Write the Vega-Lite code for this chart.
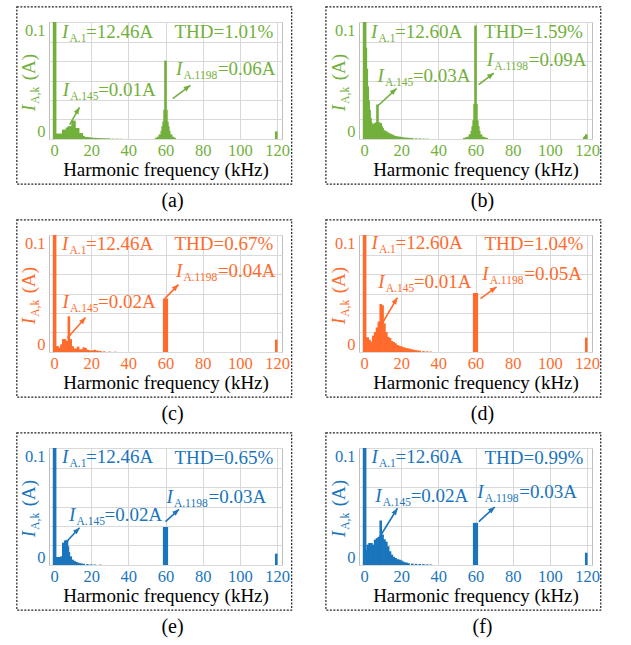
{
"$schema": "https://vega.github.io/schema/vega-lite/v6.json",
"padding": {"left": 15, "top": 5, "right": 5, "bottom": 5},
"background": "white",
"datasets": {
"sa": [{"f":0.05,"a":12.46},{"f":0.6,"a":0.11},{"f":1,"a":0.0046},{"f":2,"a":0.0046},{"f":3,"a":0.0046},{"f":4,"a":0.0046},{"f":5,"a":0.008},{"f":6,"a":0.008},{"f":7,"a":0.0098},{"f":8,"a":0.011},{"f":9,"a":0.011},{"f":10,"a":0.0157},{"f":11,"a":0.0157},{"f":12,"a":0.0094},{"f":13,"a":0.0094},{"f":14,"a":0.005},{"f":15,"a":0.005},{"f":16,"a":0.0025},{"f":17,"a":0.0017},{"f":18,"a":0.0017},{"f":19,"a":0.0015},{"f":20,"a":0.0012},{"f":21,"a":0.001},{"f":22,"a":0.001},{"f":23,"a":0.0009},{"f":24,"a":0.0008},{"f":25,"a":0.0007},{"f":26,"a":0.0006},{"f":27,"a":0.0006},{"f":28,"a":0.0005},{"f":29,"a":0.0005},{"f":30,"a":0.0004},{"f":32,"a":0.0003},{"f":34,"a":0.0003},{"f":36,"a":0.0002},{"f":55,"a":0.001},{"f":56,"a":0.002},{"f":57,"a":0.004},{"f":58,"a":0.007},{"f":58.5,"a":0.011},{"f":59,"a":0.015},{"f":59.5,"a":0.025},{"f":60,"a":0.067},{"f":60.5,"a":0.025},{"f":61,"a":0.015},{"f":61.5,"a":0.011},{"f":62,"a":0.007},{"f":63,"a":0.004},{"f":64,"a":0.002},{"f":65,"a":0.001},{"f":119.6,"a":0.0065}],
"sb": [{"f":0.05,"a":12.6},{"f":0.6,"a":0.11},{"f":1,"a":0.078},{"f":1.5,"a":0.06},{"f":2,"a":0.045},{"f":2.5,"a":0.033},{"f":3,"a":0.025},{"f":3.5,"a":0.018},{"f":4,"a":0.014},{"f":4.5,"a":0.0117},{"f":5,"a":0.012},{"f":5.5,"a":0.013},{"f":6,"a":0.0137},{"f":6.5,"a":0.014},{"f":7,"a":0.014},{"f":7.25,"a":0.0295},{"f":7.5,"a":0.014},{"f":8,"a":0.014},{"f":8.5,"a":0.014},{"f":9,"a":0.0135},{"f":9.5,"a":0.011},{"f":10,"a":0.0094},{"f":11,"a":0.0075},{"f":12,"a":0.0066},{"f":13,"a":0.0055},{"f":14,"a":0.0046},{"f":15,"a":0.004},{"f":16,"a":0.0032},{"f":17,"a":0.0025},{"f":18,"a":0.0023},{"f":19,"a":0.002},{"f":20,"a":0.0018},{"f":21,"a":0.0015},{"f":22,"a":0.0012},{"f":23,"a":0.0011},{"f":24,"a":0.001},{"f":25,"a":0.0009},{"f":26,"a":0.0008},{"f":28,"a":0.0006},{"f":30,"a":0.0005},{"f":32,"a":0.0004},{"f":34,"a":0.0003},{"f":54,"a":0.001},{"f":55,"a":0.0015},{"f":56,"a":0.002},{"f":57,"a":0.004},{"f":58,"a":0.007},{"f":58.5,"a":0.011},{"f":59,"a":0.016},{"f":59.5,"a":0.03},{"f":60,"a":0.097},{"f":60.5,"a":0.03},{"f":61,"a":0.016},{"f":61.5,"a":0.011},{"f":62,"a":0.007},{"f":63,"a":0.004},{"f":64,"a":0.002},{"f":65,"a":0.0015},{"f":66,"a":0.001},{"f":118.5,"a":0.0015},{"f":119,"a":0.0025},{"f":119.6,"a":0.004}],
"sc": [{"f":0.05,"a":12.46},{"f":0.6,"a":0.11},{"f":1,"a":0.005},{"f":2,"a":0.005},{"f":3,"a":0.0037},{"f":4,"a":0.0066},{"f":5,"a":0.011},{"f":6,"a":0.011},{"f":7,"a":0.0094},{"f":8,"a":0.0305},{"f":9,"a":0.011},{"f":10,"a":0.005},{"f":11,"a":0.003},{"f":12,"a":0.003},{"f":13,"a":0.0046},{"f":14,"a":0.0023},{"f":15,"a":0.0023},{"f":16,"a":0.004},{"f":17,"a":0.0035},{"f":18,"a":0.002},{"f":19,"a":0.0015},{"f":20,"a":0.0012},{"f":21,"a":0.0015},{"f":22,"a":0.0018},{"f":23,"a":0.0012},{"f":24,"a":0.001},{"f":25,"a":0.0008},{"f":27,"a":0.0006},{"f":30,"a":0.0004},{"f":33,"a":0.0003},{"f":59.3,"a":0.0456},{"f":60,"a":0.0456},{"f":60.7,"a":0.0456},{"f":119.6,"a":0.0106}],
"sd": [{"f":0.05,"a":12.6},{"f":0.6,"a":0.11},{"f":1,"a":0.0125},{"f":2,"a":0.0125},{"f":3,"a":0.0105},{"f":4,"a":0.0088},{"f":5,"a":0.014},{"f":6,"a":0.017},{"f":7,"a":0.021},{"f":8,"a":0.026},{"f":9,"a":0.041},{"f":10,"a":0.04},{"f":11,"a":0.0245},{"f":12,"a":0.017},{"f":13,"a":0.013},{"f":14,"a":0.012},{"f":15,"a":0.0094},{"f":16,"a":0.0085},{"f":17,"a":0.0074},{"f":18,"a":0.006},{"f":19,"a":0.0054},{"f":20,"a":0.0048},{"f":21,"a":0.0042},{"f":22,"a":0.0037},{"f":23,"a":0.0033},{"f":24,"a":0.003},{"f":25,"a":0.0026},{"f":26,"a":0.0022},{"f":27,"a":0.0018},{"f":28,"a":0.0015},{"f":29,"a":0.0013},{"f":30,"a":0.0011},{"f":32,"a":0.0008},{"f":34,"a":0.0006},{"f":36,"a":0.0004},{"f":59.3,"a":0.0504},{"f":60,"a":0.0504},{"f":60.7,"a":0.0504},{"f":119.6,"a":0.0123}],
"se": [{"f":0.05,"a":12.46},{"f":0.6,"a":0.11},{"f":1,"a":0.0068},{"f":2,"a":0.0068},{"f":3,"a":0.0068},{"f":4,"a":0.0074},{"f":5,"a":0.019},{"f":6,"a":0.021},{"f":7,"a":0.0215},{"f":7.5,"a":0.016},{"f":8,"a":0.011},{"f":9,"a":0.0074},{"f":10,"a":0.0046},{"f":11,"a":0.0035},{"f":12,"a":0.0026},{"f":13,"a":0.002},{"f":14,"a":0.0015},{"f":15,"a":0.0012},{"f":16,"a":0.001},{"f":18,"a":0.0008},{"f":20,"a":0.0006},{"f":22,"a":0.0004},{"f":25,"a":0.0003},{"f":59.3,"a":0.0325},{"f":60,"a":0.0325},{"f":60.7,"a":0.0325},{"f":119.6,"a":0.0097}],
"sf": [{"f":0.05,"a":12.6},{"f":0.6,"a":0.11},{"f":1,"a":0.013},{"f":2,"a":0.0174},{"f":3,"a":0.0188},{"f":4,"a":0.0188},{"f":5,"a":0.0174},{"f":6,"a":0.0217},{"f":7,"a":0.023},{"f":8,"a":0.024},{"f":9,"a":0.038},{"f":10,"a":0.026},{"f":11,"a":0.022},{"f":12,"a":0.02},{"f":13,"a":0.016},{"f":14,"a":0.0117},{"f":15,"a":0.0088},{"f":16,"a":0.007},{"f":17,"a":0.006},{"f":18,"a":0.005},{"f":19,"a":0.0046},{"f":20,"a":0.004},{"f":21,"a":0.003},{"f":22,"a":0.0023},{"f":23,"a":0.002},{"f":24,"a":0.0015},{"f":26,"a":0.0012},{"f":28,"a":0.001},{"f":30,"a":0.0009},{"f":32,"a":0.0008},{"f":34,"a":0.0006},{"f":36,"a":0.0004},{"f":59.3,"a":0.036},{"f":60,"a":0.036},{"f":60.7,"a":0.036},{"f":119.6,"a":0.0105}],
"arrows": [
{"p":"a","k":"145","f":8.45,"a":0.0123,"f2":13.75,"a2":0.0271},{"p":"a","k":"1198","f":63.9,"a":0.0345,"f2":73.4,"a2":0.0459},
{"p":"b","k":"145","f":7.2,"a":0.028,"f2":17.5,"a2":0.0431},{"p":"b","k":"1198","f":61.7,"a":0.0465,"f2":69.9,"a2":0.0564},
{"p":"c","k":"145","f":7.2,"a":0.012,"f2":17,"a2":0.0295},{"p":"c","k":"1198","f":59.6,"a":0.0456,"f2":67,"a2":0.0576},
{"p":"d","k":"145","f":6,"a":0.0143,"f2":18,"a2":0.0465},{"p":"d","k":"1198","f":62.7,"a":0.0456,"f2":71.3,"a2":0.0556},
{"p":"e","k":"145","f":5.5,"a":0.0177,"f2":13.75,"a2":0.0319},{"p":"e","k":"1198","f":60,"a":0.037,"f2":67.3,"a2":0.0476},
{"p":"f","k":"145","f":8.2,"a":0.0233,"f2":18,"a2":0.0485},{"p":"f","k":"1198","f":61.8,"a":0.037,"f2":70.4,"a2":0.0496}],
"notes": [
{"p":"a","k":"1","f":4.3,"a":0.0863,"sub":"A.1","txt":"=12.46A"},{"p":"a","k":"145","f":4.65,"a":0.0365,"sub":"A.145","txt":"=0.01A"},{"p":"a","k":"1198","f":65.6,"a":0.0544,"sub":"A.1198","txt":"=0.06A"},{"p":"a","k":"yt","f":-10,"a":0.0237,"sub":"A,k","txt":"(A)"},{"p":"a","k":"thd","f":118,"a":0.0862,"txt":"THD=1.01%"},
{"p":"b","k":"1","f":3.8,"a":0.0863,"sub":"A.1","txt":"=12.60A"},{"p":"b","k":"145","f":7.2,"a":0.0485,"sub":"A.145","txt":"=0.03A"},{"p":"b","k":"1198","f":66.1,"a":0.0621,"sub":"A.1198","txt":"=0.09A"},{"p":"b","k":"yt","f":-10,"a":0.0237,"sub":"A,k","txt":"(A)"},{"p":"b","k":"thd","f":117.8,"a":0.0862,"txt":"THD=1.59%"},
{"p":"c","k":"1","f":4.3,"a":0.0869,"sub":"A.1","txt":"=12.46A"},{"p":"c","k":"145","f":4.6,"a":0.0376,"sub":"A.145","txt":"=0.02A"},{"p":"c","k":"1198","f":65.6,"a":0.0638,"sub":"A.1198","txt":"=0.04A"},{"p":"c","k":"yt","f":-10,"a":0.0237,"sub":"A,k","txt":"(A)"},{"p":"c","k":"thd","f":118,"a":0.0868,"txt":"THD=0.67%"},
{"p":"d","k":"1","f":4,"a":0.0878,"sub":"A.1","txt":"=12.60A"},{"p":"d","k":"145","f":7.7,"a":0.055,"sub":"A.145","txt":"=0.01A"},{"p":"d","k":"1198","f":63.6,"a":0.0613,"sub":"A.1198","txt":"=0.05A"},{"p":"d","k":"yt","f":-10,"a":0.0237,"sub":"A,k","txt":"(A)"},{"p":"d","k":"thd","f":118,"a":0.0875,"txt":"THD=1.04%"},
{"p":"e","k":"1","f":4.3,"a":0.0869,"sub":"A.1","txt":"=12.46A"},{"p":"e","k":"145","f":8.1,"a":0.0376,"sub":"A.145","txt":"=0.02A"},{"p":"e","k":"1198","f":60.5,"a":0.0533,"sub":"A.1198","txt":"=0.03A"},{"p":"e","k":"yt","f":-10,"a":0.0237,"sub":"A,k","txt":"(A)"},{"p":"e","k":"thd","f":118,"a":0.0862,"txt":"THD=0.65%"},
{"p":"f","k":"1","f":4,"a":0.0869,"sub":"A.1","txt":"=12.60A"},{"p":"f","k":"145","f":6,"a":0.0538,"sub":"A.145","txt":"=0.02A"},{"p":"f","k":"1198","f":61,"a":0.0575,"sub":"A.1198","txt":"=0.03A"},{"p":"f","k":"yt","f":-10,"a":0.0237,"sub":"A,k","txt":"(A)"},{"p":"f","k":"thd","f":118,"a":0.0862,"txt":"THD=0.99%"}]
},
"columns": 2,
"spacing": {"row": 96, "column": 77},
"bounds": "flush",
"concat": [
{"width":233,"height":117,"title":"(a)","resolve":{"axis":{"x":"independent","y":"independent"}},"encoding":{"color":{"value":"#72B03C"}},"layer":[
{"data":{"name":"sa"},"mark":{"type":"bar","size":2.6,"clip":true,"orient":"vertical"},"encoding":{"x":{"field":"f","type":"quantitative","scale":{"domain":[0,120],"nice":false,"zero":false},"axis":{"values":[0,20,40,60,80,100,120],"labelColor":"#72B03C","title":"Harmonic frequency (kHz)"}},"y":{"field":"a","type":"quantitative","stack":null,"scale":{"domain":[0,0.1],"nice":false},"axis":{"values":[0,0.0166667,0.0333333,0.05,0.0666667,0.0833333,0.1],"labelExpr":"datum.value == 0 ? '0' : (datum.value > 0.099 ? '0.1' : '')","labelColor":"#72B03C","title":null}}}},
{"data":{"values":[{}]},"mark":{"type":"rect","filled":false,"strokeDash":[2,1.5],"strokeWidth":1.2},"encoding":{"color":{"value":"#222"},"x":{"datum":-20,"type":"quantitative","axis":null},"x2":{"datum":127.9},"y":{"datum":-0.0385,"type":"quantitative","axis":null},"y2":{"datum":0.113}}},
{"data":{"name":"arrows"},"transform":[{"filter":"datum.p=='a'"}],"mark":{"type":"rule","strokeWidth":1.6},"encoding":{"x":{"field":"f","type":"quantitative","axis":null},"y":{"field":"a","type":"quantitative","axis":null},"x2":{"field":"f2"},"y2":{"field":"a2"}}},
{"data":{"name":"arrows"},"transform":[{"filter":"datum.p=='a'"}],"mark":{"type":"point","shape":"M0,0L-0.8,2L0.8,2Z","filled":true,"size":45,"opacity":1},"encoding":{"x":{"field":"f2","type":"quantitative","axis":null},"y":{"field":"a2","type":"quantitative","axis":null},"angle":{"condition":{"test":"datum.k=='145'","value":31},"value":54}}},
{"data":{"name":"notes"},"transform":[{"filter":"datum.p=='a' && datum.k!='thd'"}],"mark":{"type":"text","font":"Liberation Serif","fontSize":19,"fontStyle":"italic","align":"left","baseline":"alphabetic"},"encoding":{"x":{"field":"f","type":"quantitative","axis":null},"y":{"field":"a","type":"quantitative","axis":null},"text":{"value":"I"},"angle":{"condition":{"test":"datum.k=='yt'","value":270},"value":0}}},
{"data":{"name":"notes"},"transform":[{"filter":"datum.p=='a' && datum.k!='thd'"}],"mark":{"type":"text","font":"Liberation Serif","fontSize":11.5,"align":"left","baseline":"alphabetic","dx":7.5,"dy":4},"encoding":{"x":{"field":"f","type":"quantitative","axis":null},"y":{"field":"a","type":"quantitative","axis":null},"text":{"field":"sub"},"angle":{"condition":{"test":"datum.k=='yt'","value":270},"value":0}}},
{"data":{"name":"notes"},"transform":[{"filter":"datum.p=='a' && datum.k=='yt'"}],"mark":{"type":"text","font":"Liberation Serif","fontSize":19,"align":"left","baseline":"alphabetic","dx":31,"angle":270},"encoding":{"x":{"field":"f","type":"quantitative","axis":null},"y":{"field":"a","type":"quantitative","axis":null},"text":{"field":"txt"}}},
{"data":{"name":"notes"},"transform":[{"filter":"datum.p=='a' && datum.k=='1'"}],"mark":{"type":"text","font":"Liberation Serif","fontSize":19,"align":"left","baseline":"alphabetic","dx":24},"encoding":{"x":{"field":"f","type":"quantitative","axis":null},"y":{"field":"a","type":"quantitative","axis":null},"text":{"field":"txt"}}},
{"data":{"name":"notes"},"transform":[{"filter":"datum.p=='a' && datum.k=='145'"}],"mark":{"type":"text","font":"Liberation Serif","fontSize":19,"align":"left","baseline":"alphabetic","dx":35.5},"encoding":{"x":{"field":"f","type":"quantitative","axis":null},"y":{"field":"a","type":"quantitative","axis":null},"text":{"field":"txt"}}},
{"data":{"name":"notes"},"transform":[{"filter":"datum.p=='a' && datum.k=='1198'"}],"mark":{"type":"text","font":"Liberation Serif","fontSize":19,"align":"left","baseline":"alphabetic","dx":42},"encoding":{"x":{"field":"f","type":"quantitative","axis":null},"y":{"field":"a","type":"quantitative","axis":null},"text":{"field":"txt"}}},
{"data":{"name":"notes"},"transform":[{"filter":"datum.p=='a' && datum.k=='thd'"}],"mark":{"type":"text","font":"Liberation Serif","fontSize":19,"align":"right","baseline":"alphabetic"},"encoding":{"x":{"field":"f","type":"quantitative","axis":null},"y":{"field":"a","type":"quantitative","axis":null},"text":{"field":"txt"}}}
]},
{"width":233,"height":117,"title":"(b)","resolve":{"axis":{"x":"independent","y":"independent"}},"encoding":{"color":{"value":"#72B03C"}},"layer":[
{"data":{"name":"sb"},"mark":{"type":"bar","size":2.6,"clip":true,"orient":"vertical"},"encoding":{"x":{"field":"f","type":"quantitative","scale":{"domain":[0,120],"nice":false,"zero":false},"axis":{"values":[0,20,40,60,80,100,120],"labelColor":"#72B03C","title":"Harmonic frequency (kHz)"}},"y":{"field":"a","type":"quantitative","stack":null,"scale":{"domain":[0,0.1],"nice":false},"axis":{"values":[0,0.0166667,0.0333333,0.05,0.0666667,0.0833333,0.1],"labelExpr":"datum.value == 0 ? '0' : (datum.value > 0.099 ? '0.1' : '')","labelColor":"#72B03C","title":null}}}},
{"data":{"values":[{}]},"mark":{"type":"rect","filled":false,"strokeDash":[2,1.5],"strokeWidth":1.2},"encoding":{"color":{"value":"#222"},"x":{"datum":-20.5,"type":"quantitative","axis":null},"x2":{"datum":127.4},"y":{"datum":-0.0385,"type":"quantitative","axis":null},"y2":{"datum":0.113}}},
{"data":{"name":"arrows"},"transform":[{"filter":"datum.p=='b'"}],"mark":{"type":"rule","strokeWidth":1.6},"encoding":{"x":{"field":"f","type":"quantitative","axis":null},"y":{"field":"a","type":"quantitative","axis":null},"x2":{"field":"f2"},"y2":{"field":"a2"}}},
{"data":{"name":"arrows"},"transform":[{"filter":"datum.p=='b'"}],"mark":{"type":"point","shape":"M0,0L-0.8,2L0.8,2Z","filled":true,"size":45,"opacity":1},"encoding":{"x":{"field":"f2","type":"quantitative","axis":null},"y":{"field":"a2","type":"quantitative","axis":null},"angle":{"condition":{"test":"datum.k=='145'","value":48},"value":54}}},
{"data":{"name":"notes"},"transform":[{"filter":"datum.p=='b' && datum.k!='thd'"}],"mark":{"type":"text","font":"Liberation Serif","fontSize":19,"fontStyle":"italic","align":"left","baseline":"alphabetic"},"encoding":{"x":{"field":"f","type":"quantitative","axis":null},"y":{"field":"a","type":"quantitative","axis":null},"text":{"value":"I"},"angle":{"condition":{"test":"datum.k=='yt'","value":270},"value":0}}},
{"data":{"name":"notes"},"transform":[{"filter":"datum.p=='b' && datum.k!='thd'"}],"mark":{"type":"text","font":"Liberation Serif","fontSize":11.5,"align":"left","baseline":"alphabetic","dx":7.5,"dy":4},"encoding":{"x":{"field":"f","type":"quantitative","axis":null},"y":{"field":"a","type":"quantitative","axis":null},"text":{"field":"sub"},"angle":{"condition":{"test":"datum.k=='yt'","value":270},"value":0}}},
{"data":{"name":"notes"},"transform":[{"filter":"datum.p=='b' && datum.k=='yt'"}],"mark":{"type":"text","font":"Liberation Serif","fontSize":19,"align":"left","baseline":"alphabetic","dx":31,"angle":270},"encoding":{"x":{"field":"f","type":"quantitative","axis":null},"y":{"field":"a","type":"quantitative","axis":null},"text":{"field":"txt"}}},
{"data":{"name":"notes"},"transform":[{"filter":"datum.p=='b' && datum.k=='1'"}],"mark":{"type":"text","font":"Liberation Serif","fontSize":19,"align":"left","baseline":"alphabetic","dx":24},"encoding":{"x":{"field":"f","type":"quantitative","axis":null},"y":{"field":"a","type":"quantitative","axis":null},"text":{"field":"txt"}}},
{"data":{"name":"notes"},"transform":[{"filter":"datum.p=='b' && datum.k=='145'"}],"mark":{"type":"text","font":"Liberation Serif","fontSize":19,"align":"left","baseline":"alphabetic","dx":35.5},"encoding":{"x":{"field":"f","type":"quantitative","axis":null},"y":{"field":"a","type":"quantitative","axis":null},"text":{"field":"txt"}}},
{"data":{"name":"notes"},"transform":[{"filter":"datum.p=='b' && datum.k=='1198'"}],"mark":{"type":"text","font":"Liberation Serif","fontSize":19,"align":"left","baseline":"alphabetic","dx":42},"encoding":{"x":{"field":"f","type":"quantitative","axis":null},"y":{"field":"a","type":"quantitative","axis":null},"text":{"field":"txt"}}},
{"data":{"name":"notes"},"transform":[{"filter":"datum.p=='b' && datum.k=='thd'"}],"mark":{"type":"text","font":"Liberation Serif","fontSize":19,"align":"right","baseline":"alphabetic"},"encoding":{"x":{"field":"f","type":"quantitative","axis":null},"y":{"field":"a","type":"quantitative","axis":null},"text":{"field":"txt"}}}
]},
{"width":233,"height":117,"title":"(c)","resolve":{"axis":{"x":"independent","y":"independent"}},"encoding":{"color":{"value":"#FF6B2D"}},"layer":[
{"data":{"name":"sc"},"mark":{"type":"bar","size":2.6,"clip":true,"orient":"vertical"},"encoding":{"x":{"field":"f","type":"quantitative","scale":{"domain":[0,120],"nice":false,"zero":false},"axis":{"values":[0,20,40,60,80,100,120],"labelColor":"#FF6B2D","title":"Harmonic frequency (kHz)"}},"y":{"field":"a","type":"quantitative","stack":null,"scale":{"domain":[0,0.1],"nice":false},"axis":{"values":[0,0.0166667,0.0333333,0.05,0.0666667,0.0833333,0.1],"labelExpr":"datum.value == 0 ? '0' : (datum.value > 0.099 ? '0.1' : '')","labelColor":"#FF6B2D","title":null}}}},
{"data":{"values":[{}]},"mark":{"type":"rect","filled":false,"strokeDash":[2,1.5],"strokeWidth":1.2},"encoding":{"color":{"value":"#222"},"x":{"datum":-20,"type":"quantitative","axis":null},"x2":{"datum":127.9},"y":{"datum":-0.0385,"type":"quantitative","axis":null},"y2":{"datum":0.113}}},
{"data":{"name":"arrows"},"transform":[{"filter":"datum.p=='c'"}],"mark":{"type":"rule","strokeWidth":1.6},"encoding":{"x":{"field":"f","type":"quantitative","axis":null},"y":{"field":"a","type":"quantitative","axis":null},"x2":{"field":"f2"},"y2":{"field":"a2"}}},
{"data":{"name":"arrows"},"transform":[{"filter":"datum.p=='c'"}],"mark":{"type":"point","shape":"M0,0L-0.8,2L0.8,2Z","filled":true,"size":45,"opacity":1},"encoding":{"x":{"field":"f2","type":"quantitative","axis":null},"y":{"field":"a2","type":"quantitative","axis":null},"angle":{"condition":{"test":"datum.k=='145'","value":42},"value":46}}},
{"data":{"name":"notes"},"transform":[{"filter":"datum.p=='c' && datum.k!='thd'"}],"mark":{"type":"text","font":"Liberation Serif","fontSize":19,"fontStyle":"italic","align":"left","baseline":"alphabetic"},"encoding":{"x":{"field":"f","type":"quantitative","axis":null},"y":{"field":"a","type":"quantitative","axis":null},"text":{"value":"I"},"angle":{"condition":{"test":"datum.k=='yt'","value":270},"value":0}}},
{"data":{"name":"notes"},"transform":[{"filter":"datum.p=='c' && datum.k!='thd'"}],"mark":{"type":"text","font":"Liberation Serif","fontSize":11.5,"align":"left","baseline":"alphabetic","dx":7.5,"dy":4},"encoding":{"x":{"field":"f","type":"quantitative","axis":null},"y":{"field":"a","type":"quantitative","axis":null},"text":{"field":"sub"},"angle":{"condition":{"test":"datum.k=='yt'","value":270},"value":0}}},
{"data":{"name":"notes"},"transform":[{"filter":"datum.p=='c' && datum.k=='yt'"}],"mark":{"type":"text","font":"Liberation Serif","fontSize":19,"align":"left","baseline":"alphabetic","dx":31,"angle":270},"encoding":{"x":{"field":"f","type":"quantitative","axis":null},"y":{"field":"a","type":"quantitative","axis":null},"text":{"field":"txt"}}},
{"data":{"name":"notes"},"transform":[{"filter":"datum.p=='c' && datum.k=='1'"}],"mark":{"type":"text","font":"Liberation Serif","fontSize":19,"align":"left","baseline":"alphabetic","dx":24},"encoding":{"x":{"field":"f","type":"quantitative","axis":null},"y":{"field":"a","type":"quantitative","axis":null},"text":{"field":"txt"}}},
{"data":{"name":"notes"},"transform":[{"filter":"datum.p=='c' && datum.k=='145'"}],"mark":{"type":"text","font":"Liberation Serif","fontSize":19,"align":"left","baseline":"alphabetic","dx":35.5},"encoding":{"x":{"field":"f","type":"quantitative","axis":null},"y":{"field":"a","type":"quantitative","axis":null},"text":{"field":"txt"}}},
{"data":{"name":"notes"},"transform":[{"filter":"datum.p=='c' && datum.k=='1198'"}],"mark":{"type":"text","font":"Liberation Serif","fontSize":19,"align":"left","baseline":"alphabetic","dx":42},"encoding":{"x":{"field":"f","type":"quantitative","axis":null},"y":{"field":"a","type":"quantitative","axis":null},"text":{"field":"txt"}}},
{"data":{"name":"notes"},"transform":[{"filter":"datum.p=='c' && datum.k=='thd'"}],"mark":{"type":"text","font":"Liberation Serif","fontSize":19,"align":"right","baseline":"alphabetic"},"encoding":{"x":{"field":"f","type":"quantitative","axis":null},"y":{"field":"a","type":"quantitative","axis":null},"text":{"field":"txt"}}}
]},
{"width":233,"height":117,"title":"(d)","resolve":{"axis":{"x":"independent","y":"independent"}},"encoding":{"color":{"value":"#FF6B2D"}},"layer":[
{"data":{"name":"sd"},"mark":{"type":"bar","size":2.6,"clip":true,"orient":"vertical"},"encoding":{"x":{"field":"f","type":"quantitative","scale":{"domain":[0,120],"nice":false,"zero":false},"axis":{"values":[0,20,40,60,80,100,120],"labelColor":"#FF6B2D","title":"Harmonic frequency (kHz)"}},"y":{"field":"a","type":"quantitative","stack":null,"scale":{"domain":[0,0.1],"nice":false},"axis":{"values":[0,0.0166667,0.0333333,0.05,0.0666667,0.0833333,0.1],"labelExpr":"datum.value == 0 ? '0' : (datum.value > 0.099 ? '0.1' : '')","labelColor":"#FF6B2D","title":null}}}},
{"data":{"values":[{}]},"mark":{"type":"rect","filled":false,"strokeDash":[2,1.5],"strokeWidth":1.2},"encoding":{"color":{"value":"#222"},"x":{"datum":-20.5,"type":"quantitative","axis":null},"x2":{"datum":127.4},"y":{"datum":-0.0385,"type":"quantitative","axis":null},"y2":{"datum":0.113}}},
{"data":{"name":"arrows"},"transform":[{"filter":"datum.p=='d'"}],"mark":{"type":"rule","strokeWidth":1.6},"encoding":{"x":{"field":"f","type":"quantitative","axis":null},"y":{"field":"a","type":"quantitative","axis":null},"x2":{"field":"f2"},"y2":{"field":"a2"}}},
{"data":{"name":"arrows"},"transform":[{"filter":"datum.p=='d'"}],"mark":{"type":"point","shape":"M0,0L-0.8,2L0.8,2Z","filled":true,"size":45,"opacity":1},"encoding":{"x":{"field":"f2","type":"quantitative","axis":null},"y":{"field":"a2","type":"quantitative","axis":null},"angle":{"condition":{"test":"datum.k=='145'","value":32},"value":55}}},
{"data":{"name":"notes"},"transform":[{"filter":"datum.p=='d' && datum.k!='thd'"}],"mark":{"type":"text","font":"Liberation Serif","fontSize":19,"fontStyle":"italic","align":"left","baseline":"alphabetic"},"encoding":{"x":{"field":"f","type":"quantitative","axis":null},"y":{"field":"a","type":"quantitative","axis":null},"text":{"value":"I"},"angle":{"condition":{"test":"datum.k=='yt'","value":270},"value":0}}},
{"data":{"name":"notes"},"transform":[{"filter":"datum.p=='d' && datum.k!='thd'"}],"mark":{"type":"text","font":"Liberation Serif","fontSize":11.5,"align":"left","baseline":"alphabetic","dx":7.5,"dy":4},"encoding":{"x":{"field":"f","type":"quantitative","axis":null},"y":{"field":"a","type":"quantitative","axis":null},"text":{"field":"sub"},"angle":{"condition":{"test":"datum.k=='yt'","value":270},"value":0}}},
{"data":{"name":"notes"},"transform":[{"filter":"datum.p=='d' && datum.k=='yt'"}],"mark":{"type":"text","font":"Liberation Serif","fontSize":19,"align":"left","baseline":"alphabetic","dx":31,"angle":270},"encoding":{"x":{"field":"f","type":"quantitative","axis":null},"y":{"field":"a","type":"quantitative","axis":null},"text":{"field":"txt"}}},
{"data":{"name":"notes"},"transform":[{"filter":"datum.p=='d' && datum.k=='1'"}],"mark":{"type":"text","font":"Liberation Serif","fontSize":19,"align":"left","baseline":"alphabetic","dx":24},"encoding":{"x":{"field":"f","type":"quantitative","axis":null},"y":{"field":"a","type":"quantitative","axis":null},"text":{"field":"txt"}}},
{"data":{"name":"notes"},"transform":[{"filter":"datum.p=='d' && datum.k=='145'"}],"mark":{"type":"text","font":"Liberation Serif","fontSize":19,"align":"left","baseline":"alphabetic","dx":35.5},"encoding":{"x":{"field":"f","type":"quantitative","axis":null},"y":{"field":"a","type":"quantitative","axis":null},"text":{"field":"txt"}}},
{"data":{"name":"notes"},"transform":[{"filter":"datum.p=='d' && datum.k=='1198'"}],"mark":{"type":"text","font":"Liberation Serif","fontSize":19,"align":"left","baseline":"alphabetic","dx":42},"encoding":{"x":{"field":"f","type":"quantitative","axis":null},"y":{"field":"a","type":"quantitative","axis":null},"text":{"field":"txt"}}},
{"data":{"name":"notes"},"transform":[{"filter":"datum.p=='d' && datum.k=='thd'"}],"mark":{"type":"text","font":"Liberation Serif","fontSize":19,"align":"right","baseline":"alphabetic"},"encoding":{"x":{"field":"f","type":"quantitative","axis":null},"y":{"field":"a","type":"quantitative","axis":null},"text":{"field":"txt"}}}
]},
{"width":233,"height":117,"title":"(e)","resolve":{"axis":{"x":"independent","y":"independent"}},"encoding":{"color":{"value":"#1A75BC"}},"layer":[
{"data":{"name":"se"},"mark":{"type":"bar","size":2.6,"clip":true,"orient":"vertical"},"encoding":{"x":{"field":"f","type":"quantitative","scale":{"domain":[0,120],"nice":false,"zero":false},"axis":{"values":[0,20,40,60,80,100,120],"labelColor":"#1A75BC","title":"Harmonic frequency (kHz)"}},"y":{"field":"a","type":"quantitative","stack":null,"scale":{"domain":[0,0.1],"nice":false},"axis":{"values":[0,0.0166667,0.0333333,0.05,0.0666667,0.0833333,0.1],"labelExpr":"datum.value == 0 ? '0' : (datum.value > 0.099 ? '0.1' : '')","labelColor":"#1A75BC","title":null}}}},
{"data":{"values":[{}]},"mark":{"type":"rect","filled":false,"strokeDash":[2,1.5],"strokeWidth":1.2},"encoding":{"color":{"value":"#222"},"x":{"datum":-20,"type":"quantitative","axis":null},"x2":{"datum":127.9},"y":{"datum":-0.0385,"type":"quantitative","axis":null},"y2":{"datum":0.113}}},
{"data":{"name":"arrows"},"transform":[{"filter":"datum.p=='e'"}],"mark":{"type":"rule","strokeWidth":1.6},"encoding":{"x":{"field":"f","type":"quantitative","axis":null},"y":{"field":"a","type":"quantitative","axis":null},"x2":{"field":"f2"},"y2":{"field":"a2"}}},
{"data":{"name":"arrows"},"transform":[{"filter":"datum.p=='e'"}],"mark":{"type":"point","shape":"M0,0L-0.8,2L0.8,2Z","filled":true,"size":45,"opacity":1},"encoding":{"x":{"field":"f2","type":"quantitative","axis":null},"y":{"field":"a2","type":"quantitative","axis":null},"angle":{"condition":{"test":"datum.k=='145'","value":44},"value":49}}},
{"data":{"name":"notes"},"transform":[{"filter":"datum.p=='e' && datum.k!='thd'"}],"mark":{"type":"text","font":"Liberation Serif","fontSize":19,"fontStyle":"italic","align":"left","baseline":"alphabetic"},"encoding":{"x":{"field":"f","type":"quantitative","axis":null},"y":{"field":"a","type":"quantitative","axis":null},"text":{"value":"I"},"angle":{"condition":{"test":"datum.k=='yt'","value":270},"value":0}}},
{"data":{"name":"notes"},"transform":[{"filter":"datum.p=='e' && datum.k!='thd'"}],"mark":{"type":"text","font":"Liberation Serif","fontSize":11.5,"align":"left","baseline":"alphabetic","dx":7.5,"dy":4},"encoding":{"x":{"field":"f","type":"quantitative","axis":null},"y":{"field":"a","type":"quantitative","axis":null},"text":{"field":"sub"},"angle":{"condition":{"test":"datum.k=='yt'","value":270},"value":0}}},
{"data":{"name":"notes"},"transform":[{"filter":"datum.p=='e' && datum.k=='yt'"}],"mark":{"type":"text","font":"Liberation Serif","fontSize":19,"align":"left","baseline":"alphabetic","dx":31,"angle":270},"encoding":{"x":{"field":"f","type":"quantitative","axis":null},"y":{"field":"a","type":"quantitative","axis":null},"text":{"field":"txt"}}},
{"data":{"name":"notes"},"transform":[{"filter":"datum.p=='e' && datum.k=='1'"}],"mark":{"type":"text","font":"Liberation Serif","fontSize":19,"align":"left","baseline":"alphabetic","dx":24},"encoding":{"x":{"field":"f","type":"quantitative","axis":null},"y":{"field":"a","type":"quantitative","axis":null},"text":{"field":"txt"}}},
{"data":{"name":"notes"},"transform":[{"filter":"datum.p=='e' && datum.k=='145'"}],"mark":{"type":"text","font":"Liberation Serif","fontSize":19,"align":"left","baseline":"alphabetic","dx":35.5},"encoding":{"x":{"field":"f","type":"quantitative","axis":null},"y":{"field":"a","type":"quantitative","axis":null},"text":{"field":"txt"}}},
{"data":{"name":"notes"},"transform":[{"filter":"datum.p=='e' && datum.k=='1198'"}],"mark":{"type":"text","font":"Liberation Serif","fontSize":19,"align":"left","baseline":"alphabetic","dx":42},"encoding":{"x":{"field":"f","type":"quantitative","axis":null},"y":{"field":"a","type":"quantitative","axis":null},"text":{"field":"txt"}}},
{"data":{"name":"notes"},"transform":[{"filter":"datum.p=='e' && datum.k=='thd'"}],"mark":{"type":"text","font":"Liberation Serif","fontSize":19,"align":"right","baseline":"alphabetic"},"encoding":{"x":{"field":"f","type":"quantitative","axis":null},"y":{"field":"a","type":"quantitative","axis":null},"text":{"field":"txt"}}}
]},
{"width":233,"height":117,"title":"(f)","resolve":{"axis":{"x":"independent","y":"independent"}},"encoding":{"color":{"value":"#1A75BC"}},"layer":[
{"data":{"name":"sf"},"mark":{"type":"bar","size":2.6,"clip":true,"orient":"vertical"},"encoding":{"x":{"field":"f","type":"quantitative","scale":{"domain":[0,120],"nice":false,"zero":false},"axis":{"values":[0,20,40,60,80,100,120],"labelColor":"#1A75BC","title":"Harmonic frequency (kHz)"}},"y":{"field":"a","type":"quantitative","stack":null,"scale":{"domain":[0,0.1],"nice":false},"axis":{"values":[0,0.0166667,0.0333333,0.05,0.0666667,0.0833333,0.1],"labelExpr":"datum.value == 0 ? '0' : (datum.value > 0.099 ? '0.1' : '')","labelColor":"#1A75BC","title":null}}}},
{"data":{"values":[{}]},"mark":{"type":"rect","filled":false,"strokeDash":[2,1.5],"strokeWidth":1.2},"encoding":{"color":{"value":"#222"},"x":{"datum":-20.5,"type":"quantitative","axis":null},"x2":{"datum":127.4},"y":{"datum":-0.0385,"type":"quantitative","axis":null},"y2":{"datum":0.113}}},
{"data":{"name":"arrows"},"transform":[{"filter":"datum.p=='f'"}],"mark":{"type":"rule","strokeWidth":1.6},"encoding":{"x":{"field":"f","type":"quantitative","axis":null},"y":{"field":"a","type":"quantitative","axis":null},"x2":{"field":"f2"},"y2":{"field":"a2"}}},
{"data":{"name":"arrows"},"transform":[{"filter":"datum.p=='f'"}],"mark":{"type":"point","shape":"M0,0L-0.8,2L0.8,2Z","filled":true,"size":45,"opacity":1},"encoding":{"x":{"field":"f2","type":"quantitative","axis":null},"y":{"field":"a2","type":"quantitative","axis":null},"angle":{"condition":{"test":"datum.k=='145'","value":33},"value":49}}},
{"data":{"name":"notes"},"transform":[{"filter":"datum.p=='f' && datum.k!='thd'"}],"mark":{"type":"text","font":"Liberation Serif","fontSize":19,"fontStyle":"italic","align":"left","baseline":"alphabetic"},"encoding":{"x":{"field":"f","type":"quantitative","axis":null},"y":{"field":"a","type":"quantitative","axis":null},"text":{"value":"I"},"angle":{"condition":{"test":"datum.k=='yt'","value":270},"value":0}}},
{"data":{"name":"notes"},"transform":[{"filter":"datum.p=='f' && datum.k!='thd'"}],"mark":{"type":"text","font":"Liberation Serif","fontSize":11.5,"align":"left","baseline":"alphabetic","dx":7.5,"dy":4},"encoding":{"x":{"field":"f","type":"quantitative","axis":null},"y":{"field":"a","type":"quantitative","axis":null},"text":{"field":"sub"},"angle":{"condition":{"test":"datum.k=='yt'","value":270},"value":0}}},
{"data":{"name":"notes"},"transform":[{"filter":"datum.p=='f' && datum.k=='yt'"}],"mark":{"type":"text","font":"Liberation Serif","fontSize":19,"align":"left","baseline":"alphabetic","dx":31,"angle":270},"encoding":{"x":{"field":"f","type":"quantitative","axis":null},"y":{"field":"a","type":"quantitative","axis":null},"text":{"field":"txt"}}},
{"data":{"name":"notes"},"transform":[{"filter":"datum.p=='f' && datum.k=='1'"}],"mark":{"type":"text","font":"Liberation Serif","fontSize":19,"align":"left","baseline":"alphabetic","dx":24},"encoding":{"x":{"field":"f","type":"quantitative","axis":null},"y":{"field":"a","type":"quantitative","axis":null},"text":{"field":"txt"}}},
{"data":{"name":"notes"},"transform":[{"filter":"datum.p=='f' && datum.k=='145'"}],"mark":{"type":"text","font":"Liberation Serif","fontSize":19,"align":"left","baseline":"alphabetic","dx":35.5},"encoding":{"x":{"field":"f","type":"quantitative","axis":null},"y":{"field":"a","type":"quantitative","axis":null},"text":{"field":"txt"}}},
{"data":{"name":"notes"},"transform":[{"filter":"datum.p=='f' && datum.k=='1198'"}],"mark":{"type":"text","font":"Liberation Serif","fontSize":19,"align":"left","baseline":"alphabetic","dx":42},"encoding":{"x":{"field":"f","type":"quantitative","axis":null},"y":{"field":"a","type":"quantitative","axis":null},"text":{"field":"txt"}}},
{"data":{"name":"notes"},"transform":[{"filter":"datum.p=='f' && datum.k=='thd'"}],"mark":{"type":"text","font":"Liberation Serif","fontSize":19,"align":"right","baseline":"alphabetic"},"encoding":{"x":{"field":"f","type":"quantitative","axis":null},"y":{"field":"a","type":"quantitative","axis":null},"text":{"field":"txt"}}}
]}
],
"config": {
"font": "Liberation Serif",
"view": {"stroke": "#bdbdbd", "strokeWidth": 1},
"text": {"font": "Liberation Serif"},
"axis": {"labelFont": "Liberation Serif", "labelFontSize": 16.5, "titleFont": "Liberation Serif", "titleFontSize": 19, "titleFontWeight": "normal", "titleColor": "#000", "gridColor": "#d9d9d9", "gridWidth": 1, "domain": false, "ticks": false, "tickSize": 0, "labelPadding": 3},
"axisX": {"labelFlush": false, "titlePadding": 1.5},
"axisY": {"labelFlush": true, "labelPadding": 4},
"title": {"orient": "bottom", "font": "Liberation Serif", "fontSize": 20, "fontWeight": "normal", "color": "#000", "offset": 6, "anchor": "middle", "frame": "group", "dx": 7}
}
}
